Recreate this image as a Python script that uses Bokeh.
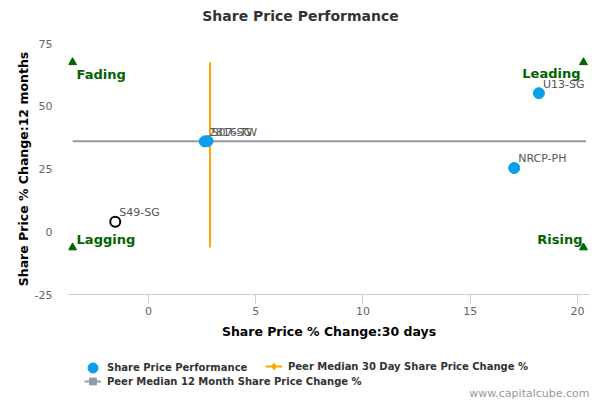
from bokeh.plotting import figure
from bokeh.layouts import column
from bokeh.models import (Range1d, FixedTicker, Legend, LegendItem, Label,
                          ColumnDataSource, CustomJSTickFormatter)
from bokeh.core.properties import value
from bokeh.embed import file_html
from bokeh.resources import INLINE

# ---- data ----
peer_names = ["U13-SG", "NRCP-PH", "2816-TW", "S07-SG"]
peer_x30 = [18.2, 17.05, 2.62, 2.75]
peer_y12 = [55.2, 25.4, 36.0, 36.1]

subject_name = ["S49-SG"]
subject_x30 = [-1.55]
subject_y12 = [4.0]

median_30d = 2.87
median_12m = 36.1
median_30d_span = [-6.3, 67.5]     # vertical extent of the 30-day median line
median_12m_span = [-3.54, 20.4]    # horizontal extent of the 12-month median line

quad_names = ["Fading", "Leading", "Lagging", "Rising"]
quad_x = [-3.54, 20.28, -3.54, 20.28]
quad_y = [67.5, 67.5, -6.3, -6.3]

x_ticks = [0, 5, 10, 15, 20]
y_ticks = [-25, 0, 25, 50, 75]

title_text = "Share Price Performance"
legend_labels = ["Share Price Performance",
                 "Peer Median 30 Day Share Price Change %",
                 "Peer Median 12 Month Share Price Change %"]
credit = "www.capitalcube.com"

FONT = "DejaVu Sans"
BLUE = "#0A9EEB"
ORANGE = "#FFA500"
GRAY = "#9499A6"
GREEN = "#006400"

fmt = CustomJSTickFormatter(code="return String(tick);")


def strip(height):
    f = figure(width=600, height=height, output_backend="svg", toolbar_location=None,
               x_range=Range1d(0, 1), y_range=Range1d(0, 1),
               x_axis_type=None, y_axis_type=None,
               min_border_left=0, min_border_right=0, min_border_top=0, min_border_bottom=0)
    f.outline_line_color = None
    f.grid.visible = False
    return f


# ---- title strip ----
tt = strip(30)
tt.add_layout(Label(x=0.4453, y=0.47, text=title_text, text_align="center",
                    text_baseline="middle", text_font=FONT, text_font_size="14px",
                    text_font_style="bold", text_color="#333333"))

# ---- main chart ----
p = figure(width=600, height=315, output_backend="svg", toolbar_location=None,
           x_range=Range1d(-3.73, 20.56), y_range=Range1d(-25, 75),
           min_border_left=68, min_border_right=11, min_border_top=13, min_border_bottom=51)
p.outline_line_color = None
p.grid.visible = False
p.background_fill_color = "white"

xa = p.xaxis[0]
xa.ticker = FixedTicker(ticks=x_ticks)
xa.formatter = fmt
xa.axis_line_color = "#C0D0E0"
xa.major_tick_line_color = "#C0D0E0"
xa.major_tick_out = 9
xa.major_tick_in = 0
xa.minor_tick_line_color = None
xa.major_label_text_font = FONT
xa.major_label_text_font_size = "11px"
xa.major_label_text_color = "#666666"
xa.major_label_standoff = 3
xa.axis_label = "Share Price % Change:30 days"
xa.axis_label_text_font = FONT
xa.axis_label_text_font_size = "12.5px"
xa.axis_label_text_font_style = "bold"
xa.axis_label_text_color = "#000000"
xa.axis_label_standoff = 6

ya = p.yaxis[0]
ya.ticker = FixedTicker(ticks=y_ticks)
ya.formatter = fmt
ya.axis_line_color = None
ya.major_tick_line_color = None
ya.minor_tick_line_color = None
ya.major_tick_out = 0
ya.major_tick_in = 0
ya.major_label_text_font = FONT
ya.major_label_text_font_size = "11px"
ya.major_label_text_color = "#666666"
ya.major_label_standoff = 16
ya.axis_label = "Share Price % Change:12 months"
ya.axis_label_text_font = FONT
ya.axis_label_text_font_size = "12.5px"
ya.axis_label_text_font_style = "bold"
ya.axis_label_text_color = "#000000"
ya.axis_label_standoff = 1

# median lines
p.line(x=median_12m_span, y=[median_12m, median_12m], line_color=GRAY, line_width=2)
p.line(x=[median_30d, median_30d], y=median_30d_span, line_color=ORANGE, line_width=2)

# quadrant markers
qsrc = ColumnDataSource(dict(x=quad_x, y=quad_y, name=quad_names))
p.scatter(x="x", y="y", source=qsrc, marker="triangle", size=8,
          fill_color=GREEN, line_color=GREEN)
tf = dict(text_font=value(FONT), text_font_size="13px", text_font_style="bold",
          text_color=GREEN, text_baseline="middle")
p.text(x=[quad_x[0]], y=[quad_y[0]], text=[quad_names[0]], x_offset=4, y_offset=12,
       text_align="left", **tf)
p.text(x=[quad_x[1]], y=[quad_y[1]], text=[quad_names[1]], x_offset=-3, y_offset=11,
       text_align="right", **tf)
p.text(x=[quad_x[2]], y=[quad_y[2]], text=[quad_names[2]], x_offset=4, y_offset=-8,
       text_align="left", **tf)
p.text(x=[quad_x[3]], y=[quad_y[3]], text=[quad_names[3]], x_offset=-1, y_offset=-8,
       text_align="right", **tf)

# peers
psrc = ColumnDataSource(dict(x=peer_x30, y=peer_y12, name=peer_names))
p.scatter(x="x", y="y", source=psrc, marker="circle", size=11,
          fill_color=BLUE, line_color=BLUE)
p.text(x="x", y="y", text="name", source=psrc, x_offset=4, y_offset=-9,
       text_font=value(FONT), text_font_size="11px", text_color="#555555",
       text_baseline="middle", text_align="left")

# subject
ssrc = ColumnDataSource(dict(x=subject_x30, y=subject_y12, name=subject_name))
p.scatter(x="x", y="y", source=ssrc, marker="circle", size=10,
          fill_color="white", line_color="black", line_width=2)
p.text(x="x", y="y", text="name", source=ssrc, x_offset=4, y_offset=-9,
       text_font=value(FONT), text_font_size="11px", text_color="#555555",
       text_baseline="middle", text_align="left")

# ---- legend strip (same series, lying outside its visible 0..1 range) ----
lg = strip(55)
g_pts = lg.scatter(x=peer_x30, y=peer_y12, marker="circle", size=11,
                   fill_color=BLUE, line_color=BLUE)
g_v = lg.line(x=[median_30d, median_30d], y=median_30d_span, line_color=ORANGE, line_width=2)
g_di = lg.scatter(x=[median_30d], y=[median_12m], marker="diamond", size=11,
                  fill_color=ORANGE, line_color=ORANGE)
g_h = lg.line(x=median_12m_span, y=[median_12m, median_12m], line_color=GRAY, line_width=2)
g_sq = lg.scatter(x=[median_30d], y=[median_12m], marker="square", size=8,
                  fill_color=GRAY, line_color=GRAY)

common = dict(orientation="horizontal", padding=0, margin=0,
              label_height=14, label_text_font=FONT, label_text_font_size="10px",
              label_text_font_style="bold", label_text_color="#333333",
              border_line_color=None, background_fill_alpha=0)
legA = Legend(items=[LegendItem(label=legend_labels[0], renderers=[g_pts])],
              glyph_width=25, glyph_height=25, label_standoff=2,
              location=(12, 20), **common)
legB = Legend(items=[LegendItem(label=legend_labels[1], renderers=[g_v, g_di])],
              glyph_width=17, glyph_height=22, label_standoff=6,
              location=(197, 23), **common)
legC = Legend(items=[LegendItem(label=legend_labels[2], renderers=[g_h, g_sq])],
              glyph_width=17, glyph_height=20, label_standoff=6,
              location=(16, 9), **common)
lg.add_layout(legA)
lg.add_layout(legB)
lg.add_layout(legC)
lg.add_layout(Label(x=1.0, y=0.13, text=credit, text_align="right", text_baseline="middle",
                    text_font=FONT, text_font_size="11px", text_color="#999999"))

layout = column(tt, p, lg, spacing=0)
open("out.html", "w").write(file_html(layout, INLINE))
